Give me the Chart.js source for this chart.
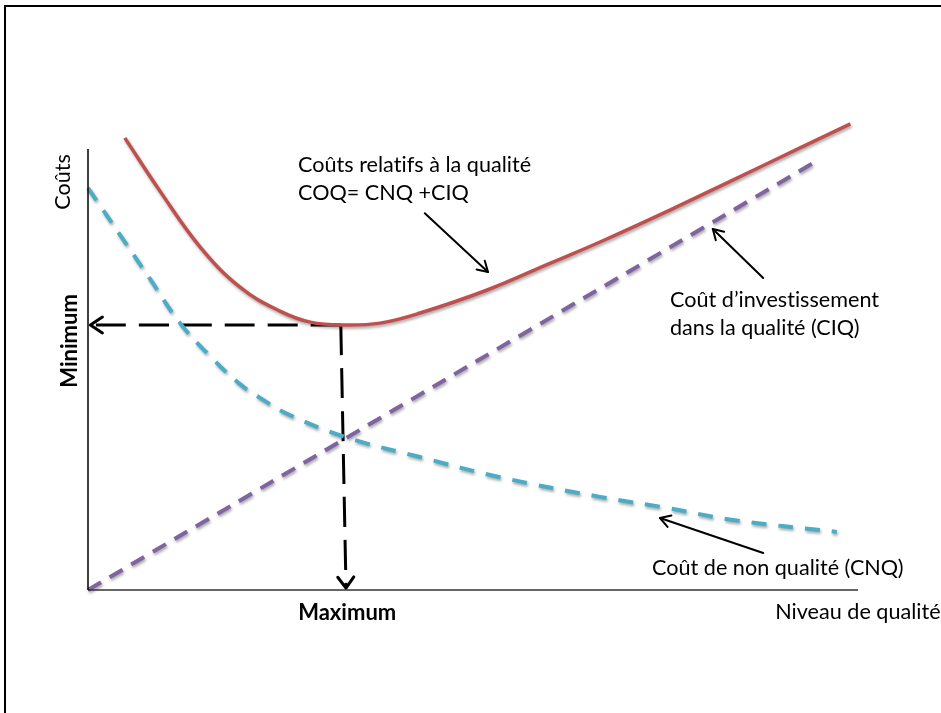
<!DOCTYPE html>
<html><head><meta charset="utf-8">
<script src="https://cdn.jsdelivr.net/npm/chart.js@4/dist/chart.umd.min.js"></script>
<style>
html,body{margin:0;padding:0;background:#fff;overflow:hidden}
#wrap{position:relative;width:941px;height:713px;overflow:hidden}
#frame{position:absolute;left:4px;top:5px;width:1000px;height:1000px;border:2px solid #000;box-sizing:border-box}
canvas{position:absolute;left:0;top:0}
</style></head><body>
<div id="wrap"><div id="frame"></div><canvas id="c" width="941" height="713"></canvas></div>
<script>
// Coûts relatifs à la qualité (COQ)
const coqX = [4.6, 9, 14, 19, 24, 27.8, 32.1, 36.5, 41.5, 49.9, 57.8, 64, 72.8, 80.6, 89, 95.3];
const coqY = [94.2, 83.1, 71.5, 63.1, 58.1, 55.8, 55.2, 55.6, 57.7, 62.5, 68.1, 72.5, 79.2, 85.4, 92.1, 97.1];
// Coût de non qualité (CNQ)
const cnqX = [0, 4, 7.75, 11.5, 15.25, 19, 22.1, 24.9, 32.1, 41.5, 51.5, 64, 72.4, 80.6, 93.6];
const cnqY = [83.75, 74.0, 64.8, 55.6, 48.75, 42.9, 39.4, 36.7, 31.9, 27.7, 23.5, 19.4, 17.1, 14.6, 12.1];
// Coût d'investissement dans la qualité (CIQ)
const ciqX = [0, 90.9];
const ciqY = [0, 89.2];
// Axes
const yAxisX = [0, 0];
const yAxisY = [0, 91.9];
const xAxisX = [0, 96.25];
const xAxisY = [0, 0];
// Optimum guide lines
const guideHX = [31.6, 0.3];
const guideHY = [55.2, 55.2];
const guideVX = [31.6, 32.25];
const guideVY = [55.2, 0.4];
// Annotation arrows [fromX, fromY, toX, toY]
const arrowCOQ = [42.1, 78.5, 50, 66.25];
const arrowCIQ = [84.4, 65, 78.1, 75.2];
const arrowCNQ = [84.4, 7.7, 71.5, 15];
// Texts
const textLabels = ["Coûts relatifs à la qualité", "COQ= CNQ +CIQ", "Coût d’investissement", "dans la qualité (CIQ)", "Coût de non qualité (CNQ)", "Niveau de qualité", "Maximum", "Coûts", "Minimum"];
const textX = [26.25, 26.25, 72.75, 72.75, 70.5, 85.9, 32.4, -3.1, -2.25];
const textY = [88.5, 82.7, 60.4, 54.6, 4.6, -4.6, -4.8, 85, 51.9];

const pts = (xs, ys) => xs.map((x, i) => ({x, y: ys[i]}));
const FONT = 'Lato, "Open Sans", sans-serif';

function head(ctx, x1, y1, x2, y2, len, half) {
  const a = Math.atan2(y2 - y1, x2 - x1);
  const bx = x2 - len * Math.cos(a), by = y2 - len * Math.sin(a);
  const nx = -Math.sin(a) * half, ny = Math.cos(a) * half;
  ctx.beginPath();
  ctx.moveTo(bx + nx, by + ny);
  ctx.lineTo(x2, y2);
  ctx.lineTo(bx - nx, by - ny);
  ctx.stroke();
}

const deco = {
  id: 'deco',
  beforeDatasetDraw(chart, args) {
    const ds = chart.data.datasets[args.index];
    chart.ctx.save();
    if (ds.shadow) {
      chart.ctx.shadowColor = 'rgba(0,0,0,0.35)';
      chart.ctx.shadowBlur = 3;
      chart.ctx.shadowOffsetX = 1;
      chart.ctx.shadowOffsetY = 2;
    }
  },
  afterDatasetDraw(chart) { chart.ctx.restore(); },
  afterDatasetsDraw(chart) {
    const ctx = chart.ctx, xs = chart.scales.x, ys = chart.scales.y;
    const X = v => xs.getPixelForValue(v), Y = v => ys.getPixelForValue(v);
    ctx.save();
    ctx.strokeStyle = '#000';
    ctx.lineCap = 'round';
    ctx.lineJoin = 'round';
    ctx.lineWidth = 3;
    head(ctx, X(guideHX[0]), Y(guideHY[0]), X(guideHX[1]), Y(guideHY[1]), 12, 8);
    head(ctx, X(guideVX[0]), Y(guideVY[0]), X(guideVX[1]), Y(guideVY[1]), 11, 8);
    ctx.lineWidth = 2;
    for (const a of [arrowCOQ, arrowCIQ, arrowCNQ]) {
      const x1 = X(a[0]), y1 = Y(a[1]), x2 = X(a[2]), y2 = Y(a[3]);
      ctx.beginPath(); ctx.moveTo(x1, y1); ctx.lineTo(x2, y2); ctx.stroke();
      head(ctx, x1, y1, x2, y2, 10, 6);
    }
    ctx.fillStyle = '#000';
    ctx.textBaseline = 'middle';
    if ('letterSpacing' in ctx) ctx.letterSpacing = '0.01px';
    const R = '21.6px', B = 'bold 22px';
    const styles = [
      {f: R, a: 'left'}, {f: R, a: 'left'}, {f: R, a: 'left'}, {f: R, a: 'left'},
      {f: R, a: 'left'}, {f: R, a: 'left'}, {f: B, a: 'center'},
      {f: R, a: 'center', r: true}, {f: B, a: 'center', r: true}
    ];
    textLabels.forEach((t, i) => {
      const s = styles[i];
      ctx.font = s.f + ' ' + FONT;
      ctx.textAlign = s.a;
      if (s.r) {
        ctx.save();
        ctx.translate(X(textX[i]), Y(textY[i]));
        ctx.rotate(-Math.PI / 2);
        ctx.fillText(t, 0, 0);
        ctx.restore();
      } else {
        ctx.fillText(t, X(textX[i]), Y(textY[i]));
      }
    });
    ctx.restore();
  }
};

const line = (data, color, width, dash, shadow) => ({
  data, borderColor: color, borderWidth: width, borderDash: dash || [],
  pointRadius: 0, fill: false, clip: false, tension: 0.4,
  borderCapStyle: 'butt', shadow: !!shadow
});

new Chart(document.getElementById('c'), {
  type: 'line',
  data: {
    datasets: [
      line(pts(yAxisX, yAxisY), '#000', 1.5),
      line(pts(xAxisX, xAxisY), '#333', 1.5),
      line(pts(ciqX, ciqY), '#8064A2', 4, [15, 10], true),
      line(pts(cnqX, cnqY), '#4BACC6', 4, [15, 12], true),
      line(pts(coqX, coqY), '#C0504D', 3.5, [], true),
      line(pts(guideHX, guideHY), '#000', 3, [30, 13]),
      line(pts(guideVX, guideVY), '#000', 3, [30, 13])
    ]
  },
  options: {
    responsive: false,
    animation: false,
    events: [],
    layout: {padding: {left: 88, top: 110, right: 53, bottom: 123}},
    plugins: {legend: {display: false}, tooltip: {enabled: false}},
    scales: {
      x: {type: 'linear', min: 0, max: 100, display: false},
      y: {type: 'linear', min: 0, max: 100, display: false}
    }
  },
  plugins: [deco]
});
</script>
</body></html>
